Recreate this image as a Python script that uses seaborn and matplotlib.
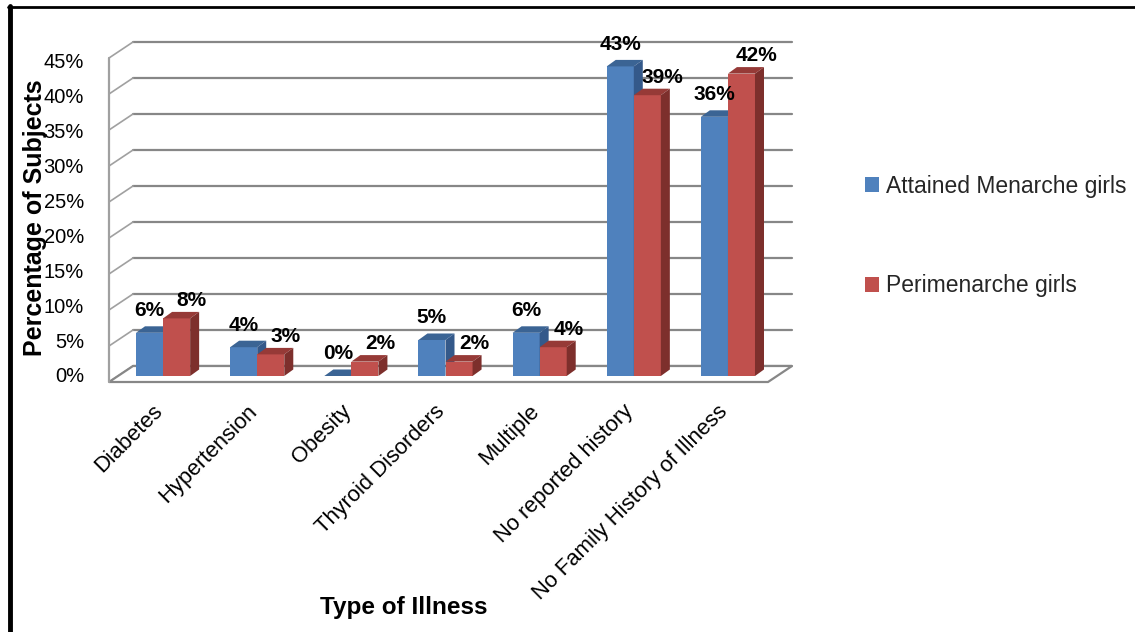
import matplotlib
matplotlib.use("Agg")
import matplotlib.pyplot as plt
from matplotlib.patches import Polygon
from matplotlib.lines import Line2D
from matplotlib.transforms import ScaledTranslation
import pandas as pd
import seaborn as sns

# ---- data -------------------------------------------------------------
categories = ["Diabetes", "Hypertension", "Obesity", "Thyroid Disorders",
              "Multiple", "No reported history", "No Family History of Illness"]
attained = [6, 4, 0, 5, 6, 43, 36]
perimenarche = [8, 3, 2, 2, 4, 39, 42]
series_names = ["Attained Menarche girls", "Perimenarche girls"]
yticks = list(range(0, 50, 5))
ytick_labels = [f"{v}%" for v in yticks]

df = pd.DataFrame({
    "Type": categories * 2,
    "Percent": attained + perimenarche,
    "Group": [series_names[0]] * len(categories) + [series_names[1]] * len(categories),
})

# ---- style ------------------------------------------------------------
sns.set_theme(style="white")
plt.rcParams["font.family"] = ["Liberation Sans", "DejaVu Sans"]

BLUE, RED = "#4F81BD", "#C0504D"
FACE_SHADES = {0: ("#3B6494", "#34598A"), 1: ("#963A37", "#7D2F2C")}  # (top, side)
GRID = "#878787"

W, H = 1135, 632
fig = plt.figure(figsize=(W / 100, H / 100), dpi=100)
# axes spans the plane in which the bar fronts stand
ax_left, ax_base, ax_w, ax_h = 116, 376, 659, 324
ax = fig.add_axes([ax_left / W, (H - ax_base) / H, ax_w / W, ax_h / H])
ax.patch.set_alpha(0)

sns.barplot(data=df, x="Type", y="Percent", hue="Group", order=categories,
            hue_order=series_names, palette=[BLUE, RED], width=0.575,
            saturation=1, errorbar=None, linewidth=0, ax=ax)
ax.set_xlim(-0.5, len(categories) - 0.5)
ax.set_ylim(0, 45)
sns.despine(ax=ax, left=True, bottom=True)

PX_X = ax_w / len(categories)   # pixels per category
PX_Y = ax_h / 45.0              # pixels per percent
BACK = (17, 10)                 # back wall offset (px right, px up)
FRONT = (-7, -6)                # front edge offset


def shift(x, y, off):
    return x + off[0] / PX_X, y + off[1] / PX_Y


x_lo, x_hi = ax.get_xlim()

# floor
floor = [shift(x_lo, 0, FRONT), shift(x_hi, 0, FRONT),
         shift(x_hi, 0, BACK), shift(x_lo, 0, BACK)]
ax.add_patch(Polygon(floor, closed=True, facecolor="white", edgecolor=GRID,
                     lw=1.6, zorder=0.6, clip_on=False))

# back wall gridlines and the left-side connectors
for v in yticks:
    bx0, by0 = shift(x_lo, v, BACK)
    bx1, by1 = shift(x_hi, v, BACK)
    ax.plot([bx0, bx1], [by0, by1], color=GRID, lw=1.6, zorder=0.5, clip_on=False)
    fx, fy = shift(x_lo, v, FRONT)
    ax.plot([fx, bx0], [fy, by0], color="#A0A0A0", lw=1.2, zorder=0.5, clip_on=False)

# front vertical axis
fx0, fy0 = shift(x_lo, 0, FRONT)
fx1, fy1 = shift(x_lo, 45, FRONT)
ax.plot([fx0, fx1], [fy0, fy1], color="#A0A0A0", lw=1.6, zorder=0.7, clip_on=False)

# ---- 3-D faces on each bar ----------------------------------------------
ddx, ddy = 9 / PX_X, 6.5 / PX_Y
label_offsets = {0: (0, 12), 1: (11, 9)}   # points
for i, cont in enumerate(ax.containers):
    top_c, side_c = FACE_SHADES[i]
    for bar in cont:
        bar.set_zorder(2 + 2 * i)
        x0, w, h = bar.get_x(), bar.get_width(), bar.get_height()
        top = [(x0, h), (x0 + w, h), (x0 + w + ddx, h + ddy), (x0 + ddx, h + ddy)]
        side = [(x0 + w, 0), (x0 + w + ddx, ddy), (x0 + w + ddx, h + ddy), (x0 + w, h)]
        ax.add_patch(Polygon(top, closed=True, facecolor=top_c, lw=0,
                             zorder=2.5 + 2 * i, clip_on=False))
        ax.add_patch(Polygon(side, closed=True, facecolor=side_c, lw=0,
                             zorder=2.5 + 2 * i, clip_on=False))
        ax.annotate(f"{h:.0f}%", xy=(x0 + w / 2, h), xytext=label_offsets[i],
                    textcoords="offset points", ha="center", va="baseline",
                    fontsize=15, fontweight="bold", color="black", zorder=10,
                    annotation_clip=False)

# ---- axes text ----------------------------------------------------------
# value axis labels sit on the slanted front edge, slightly compressed
ax.set_yticks(yticks)
ax.set_yticklabels([])
ax.tick_params(axis="y", length=0)
for v, lab in zip(yticks, ytick_labels):
    ax.annotate(lab, xy=(0, v), xycoords=("axes fraction", "data"),
                xytext=(-32, -(1 + v / 45 * 10)), textcoords="offset pixels",
                ha="right", va="center", fontsize=14.5, color="black",
                annotation_clip=False)

ax.set_xticks(range(len(categories)))
ax.set_xticklabels(categories, rotation=45, ha="right", rotation_mode="anchor",
                   fontsize=15.8, color="black")
ax.tick_params(axis="x", length=0, pad=18)
for lbl in ax.get_xticklabels():
    lbl.set_transform(lbl.get_transform() + ScaledTranslation(-0.11, 0.0, fig.dpi_scale_trans))

ax.set_ylabel("Percentage of Subjects", fontsize=18, fontweight="bold", color="black")
ax.yaxis.set_label_coords(-0.105, 0.49)
ax.set_xlabel("Type of Illness", fontsize=17.5, fontweight="bold", color="black")
ax.xaxis.set_label_coords(0.437, -0.68)

sns.move_legend(ax, "center left", bbox_to_anchor=(865 / W, 1 - 236 / H),
                bbox_transform=fig.transFigure, frameon=False, title=None,
                fontsize=16.5, labelspacing=3.35, handlelength=0.6,
                handleheight=0.6, handletextpad=0.3, borderpad=0, borderaxespad=0)

# page frame on the left and top
fig.add_artist(Line2D([9.5 / W, 9.5 / W], [0, 1 - 6 / H], transform=fig.transFigure,
                      color="black", lw=3.5))
fig.add_artist(Line2D([8 / W, 1], [1 - 7 / H, 1 - 7 / H], transform=fig.transFigure,
                      color="black", lw=2))

fig.savefig("out.png", dpi=100)
